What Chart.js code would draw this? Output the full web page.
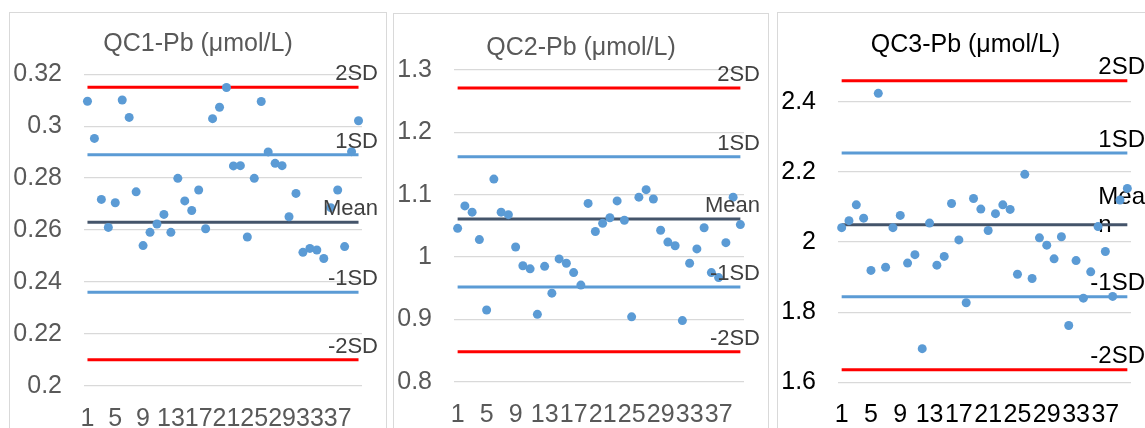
<!DOCTYPE html>
<html>
<head>
<meta charset="utf-8">
<script src="https://cdn.jsdelivr.net/npm/chart.js@4.4.1/dist/chart.umd.min.js"></script>
<style>
  body { margin: 0; background: #fff; width: 1145px; height: 428px; overflow: hidden; position: relative; }
  .panel { position: absolute; border: 1px solid #d9d9d9; background: #fff; }
  .panel canvas { display: block; }
  #p1 { left: 9px; top: 12px; }
  #p2 { left: 393px; top: 13px; }
  #p3 { left: 777px; top: 12px; }
</style>
</head>
<body>
<div class="panel" id="p1"><canvas id="c1" width="376" height="430"></canvas></div>
<div class="panel" id="p2"><canvas id="c2" width="374" height="430"></canvas></div>
<div class="panel" id="p3"><canvas id="c3" width="375" height="430"></canvas></div>
<script>
// run numbers 1..40 on the x axis, only every 4th is labelled
const runLabels = ['1','2','3','4','5','6','7','8','9','10','11','12','13','14','15','16','17','18','19','20',
                   '21','22','23','24','25','26','27','28','29','30','31','32','33','34','35','36','37','38','39','40'];
const limitNames = ['2SD', '1SD', 'Mean', '-1SD', '-2SD'];

const qc1Values = [0.3096, 0.2953, 0.2718, 0.2610, 0.2705, 0.3101, 0.3034, 0.2747, 0.2540, 0.2591,
                   0.2623, 0.2660, 0.2591, 0.2799, 0.2712, 0.2675, 0.2754, 0.2605, 0.3029, 0.3073,
                   0.3149, 0.2847, 0.2848, 0.2573, 0.2799, 0.3095, 0.2901, 0.2857, 0.2848, 0.2651,
                   0.2741, 0.2514, 0.2529, 0.2523, 0.2490, 0.2686, 0.2754, 0.2536, 0.2902, 0.3021];
const qc1Limits = [0.315, 0.289, 0.263, 0.236, 0.210];

const qc2Values = [1.046, 1.082, 1.072, 1.028, 0.915, 1.125, 1.072, 1.068, 1.016, 0.986,
                   0.981, 0.908, 0.985, 0.942, 0.997, 0.990, 0.975, 0.955, 1.086, 1.041,
                   1.054, 1.063, 1.090, 1.059, 0.904, 1.096, 1.108, 1.093, 1.043, 1.024,
                   1.018, 0.898, 0.990, 1.013, 1.047, 0.975, 0.967, 1.023, 1.096, 1.052];
const qc2Limits = [1.271, 1.161, 1.061, 0.952, 0.848];

const qc3Values = [2.041, 2.061, 2.106, 2.068, 1.919, 2.424, 1.928, 2.041, 2.076, 1.940,
                   1.964, 1.696, 2.054, 1.934, 1.959, 2.110, 2.006, 1.827, 2.124, 2.094,
                   2.033, 2.081, 2.106, 2.093, 1.908, 2.193, 1.896, 2.012, 1.991, 1.952,
                   2.015, 1.762, 1.947, 1.840, 1.915, 2.044, 1.973, 1.845, 2.120, 2.153];
const qc3Limits = [2.460, 2.254, 2.049, 1.844, 1.636];

const limitColors = ['#ff0000', '#5b9bd5', '#44546a', '#5b9bd5', '#ff0000'];
const FONT = "'Liberation Sans', Arial, sans-serif";

// SD / Mean captions at the right end of each limit line
const sdLabels = {
  id: 'sdLabels',
  beforeDatasetsDraw(chart, args, opts) { if (!opts.onTop) drawSdLabels(chart, opts); },
  afterDatasetsDraw(chart, args, opts) { if (opts.onTop) drawSdLabels(chart, opts); }
};

function drawSdLabels(chart, opts) {
  const ctx = chart.ctx;
  const yScale = chart.scales.y;
  const right = chart.width - 8;
  ctx.save();
  ctx.font = opts.size + 'px ' + FONT;
  ctx.fillStyle = opts.color;
  ctx.textBaseline = 'middle';
  ctx.textAlign = 'left';
  opts.limits.forEach((v, i) => {
    const name = opts.names[i];
    const lines = (opts.wrapMean && name === 'Mean') ? ['Mea', 'n'] : [name];
    const w = Math.max(...lines.map(t => ctx.measureText(t).width));
    const cy = yScale.getPixelForValue(v) - 13;
    const lh = 28;
    lines.forEach((t, k) => {
      ctx.fillText(t, right - w, cy + (k - (lines.length - 1) / 2) * lh);
    });
  });
  ctx.restore();
}

function makeChart(p) {
  const datasets = [{
    label: 'QC',
    data: p.values,
    showLine: false,
    pointRadius: 4.5,
    pointBackgroundColor: '#5b9bd5',
    pointBorderWidth: 0,
    order: 0
  }];
  p.limits.forEach((v, i) => {
    datasets.push({
      label: limitNames[i],
      data: runLabels.map(() => v),
      borderColor: limitColors[i],
      borderWidth: 3,
      pointRadius: 0,
      fill: false,
      order: 1
    });
  });

  return new Chart(document.getElementById(p.canvas), {
    type: 'line',
    data: { labels: runLabels, datasets: datasets },
    plugins: [sdLabels],
    options: {
      responsive: false,
      animation: false,
      devicePixelRatio: 1,
      layout: { padding: 0 },
      plugins: {
        legend: { display: false },
        tooltip: { enabled: false },
        title: {
          display: true,
          text: p.title,
          color: p.textColor,
          font: { family: FONT, size: 25, weight: 'normal', lineHeight: 1.2 },
          padding: p.titlePad
        },
        sdLabels: {
          limits: p.limits, names: limitNames, color: p.labelColor, size: p.labelSize,
          onTop: p.labelsOnTop, wrapMean: p.wrapMean
        }
      },
      scales: {
        x: {
          type: 'category',
          offset: true,
          grid: { display: false, drawTicks: false },
          border: { display: false },
          ticks: {
            autoSkip: false,
            maxRotation: 0,
            minRotation: 0,
            padding: 18,
            color: p.textColor,
            font: { family: FONT, size: 25 },
            callback: (val, i) => (i % 4 === 0 ? runLabels[i] : '')
          },
          afterFit: s => { s.height = 430 - p.bottom; }
        },
        y: {
          min: p.min,
          max: p.max,
          grid: { color: '#d9d9d9', lineWidth: 1.2, drawTicks: false },
          border: { display: false },
          ticks: {
            stepSize: p.step,
            padding: 22,
            color: p.textColor,
            font: { family: FONT, size: 25 },
            callback: v => String(Number(v.toFixed(4)))
          },
          afterBuildTicks: s => {
            s.ticks = s.ticks.filter(t => {
              const k = (t.value - p.min) / p.step;
              return Math.abs(k - Math.round(k)) < 1e-6;
            });
          },
          afterFit: s => { s.width = p.left; }
        },
        // empty right-hand box: keeps the plot narrower while the title stays centred on the panel
        yR: {
          type: 'linear',
          position: 'right',
          grid: { display: false, drawTicks: false },
          border: { display: false },
          ticks: { display: false },
          afterFit: s => { s.width = p.padRight; }
        }
      }
    }
  });
}

makeChart({
  canvas: 'c1', values: qc1Values, limits: qc1Limits, min: 0.2, max: 0.32, step: 0.02,
  title: 'QC1-Pb (μmol/L)', textColor: '#595959', labelColor: '#404040', labelSize: 22,
  labelsOnTop: true, wrapMean: false,
  left: 74, padRight: 24, bottom: 372.7, titlePad: { top: 16, bottom: 15.3 }
});
makeChart({
  canvas: 'c2', values: qc2Values, limits: qc2Limits, min: 0.8, max: 1.3, step: 0.1,
  title: 'QC2-Pb (μmol/L)', textColor: '#595959', labelColor: '#404040', labelSize: 22,
  labelsOnTop: true, wrapMean: false,
  left: 60, padRight: 24, bottom: 367.7, titlePad: { top: 19, bottom: 7 }
});
makeChart({
  canvas: 'c3', values: qc3Values, limits: qc3Limits, min: 1.6, max: 2.5, step: 0.2,
  title: 'QC3-Pb (μmol/L)', textColor: '#000000', labelColor: '#000000', labelSize: 24,
  labelsOnTop: false, wrapMean: true,
  left: 60, padRight: 22, bottom: 369.3, titlePad: { top: 17, bottom: 6.7 }
});
</script>
</body>
</html>
